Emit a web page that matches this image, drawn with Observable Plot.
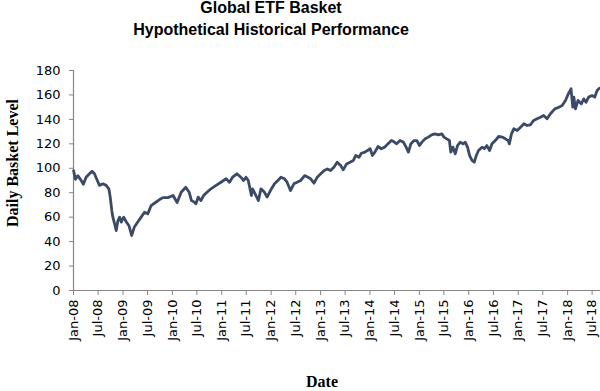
<!DOCTYPE html>
<html>
<head>
<meta charset="utf-8">
<script src="https://cdn.jsdelivr.net/npm/d3@7"></script>
<script src="https://cdn.jsdelivr.net/npm/@observablehq/plot@0.6"></script>
<style>
  html, body { margin: 0; padding: 0; background: #fff; }
  #wrap { position: relative; width: 600px; height: 391px; overflow: hidden; }
  .title { position: absolute; left: 0; width: 542px; text-align: center; font-family: "Liberation Sans", Arial, sans-serif; font-weight: bold; font-size: 16px; color: #000; line-height: 16px; white-space: nowrap; }
  .axlab { position: absolute; font-family: "Liberation Serif", "Times New Roman", serif; font-weight: bold; font-size: 16px; color: #000; line-height: 15px; white-space: nowrap; }
  #chart { position: absolute; left: 0; top: 0; }
</style>
</head>
<body>
<div id="wrap">
  <div id="chart"></div>
  <div class="title" style="top:0px">Global ETF Basket</div>
  <div class="title" style="top:22px">Hypothetical Historical Performance</div>
  <div class="axlab" id="ylab">Daily Basket Level</div>
  <div class="axlab" id="xlab">Date</div>
</div>
<script>
const dates = [
  "2008-01-02","2008-01-15","2008-02-02","2008-02-27","2008-03-14","2008-04-03","2008-04-28","2008-05-17",
  "2008-06-04","2008-06-21","2008-07-11","2008-08-05","2008-08-30","2008-09-19","2008-09-29","2008-10-10",
  "2008-10-18","2008-10-31","2008-11-12","2008-11-24","2008-12-07","2008-12-19","2009-01-06","2009-01-26",
  "2009-02-14","2009-03-06","2009-03-26","2009-04-20","2009-05-15","2009-06-09","2009-07-03","2009-07-28",
  "2009-08-29","2009-09-23","2009-10-23","2009-11-29","2010-01-06","2010-02-05","2010-03-07","2010-04-10",
  "2010-05-05","2010-05-22","2010-06-12","2010-06-24","2010-07-11","2010-07-31","2010-08-20","2010-09-14",
  "2010-10-13","2010-11-20","2010-12-26","2011-02-02","2011-02-27","2011-03-22","2011-04-23","2011-05-22",
  "2011-06-12","2011-06-29","2011-07-16","2011-08-08","2011-08-17","2011-09-11","2011-09-29","2011-10-18",
  "2011-11-13","2011-12-02","2011-12-27","2012-01-26","2012-02-20","2012-03-14","2012-04-09","2012-04-28",
  "2012-05-23","2012-06-17","2012-07-11","2012-08-06","2012-09-05","2012-09-29","2012-10-19","2012-11-13",
  "2012-12-07","2013-01-02","2013-01-27","2013-02-20","2013-03-15","2013-04-09","2013-05-03","2013-05-29",
  "2013-06-17","2013-07-12","2013-08-06","2013-08-31","2013-09-18","2013-10-12","2013-10-29","2013-11-24",
  "2013-12-13","2014-01-02","2014-01-19","2014-02-06","2014-03-01","2014-03-25","2014-04-20","2014-05-14",
  "2014-06-08","2014-06-23","2014-07-17","2014-08-11","2014-09-05","2014-09-25","2014-10-12","2014-10-30",
  "2014-11-23","2014-12-13","2015-01-02","2015-01-20","2015-02-13","2015-03-08","2015-04-02","2015-04-27",
  "2015-05-21","2015-06-16","2015-07-02","2015-07-22","2015-08-11","2015-08-21","2015-09-06","2015-09-23",
  "2015-10-10","2015-10-30","2015-11-19","2015-12-06","2015-12-23","2016-01-07","2016-01-25","2016-02-11",
  "2016-02-26","2016-03-13","2016-04-08","2016-04-25","2016-05-14","2016-06-03","2016-06-21","2016-07-15",
  "2016-08-09","2016-09-04","2016-09-28","2016-10-18","2016-10-27","2016-11-12","2016-11-29","2016-12-24",
  "2017-01-18","2017-02-12","2017-03-07","2017-03-31","2017-04-25","2017-05-20","2017-06-14","2017-07-08",
  "2017-08-02","2017-08-27","2017-09-28","2017-10-28","2017-11-22","2017-12-16","2018-01-06","2018-01-26",
  "2018-02-08","2018-02-16","2018-02-28","2018-03-19","2018-04-12","2018-04-30","2018-05-17","2018-06-05",
  "2018-07-01","2018-07-20","2018-08-07","2018-08-24"
];
const levels = [
  98, 91, 94, 90, 87, 92.7, 95.5, 97.6,
  95.5, 91, 86, 87.3, 86, 83, 76, 65.5,
  60, 54.5, 49, 57, 60, 56, 60, 56,
  53, 45, 52, 56, 60, 64, 62.7, 69.5,
  72, 74, 76, 76, 77.7, 72, 80.4, 84.5,
  80.4, 73.6, 72.3, 71, 76.4, 73.6, 77.7, 80.4,
  83.2, 86, 88.6, 91.4, 88.6, 92.7, 95.5, 92.7,
  90, 92.7, 90, 77.7, 83.2, 77.7, 73.6, 83.2,
  80.4, 76.4, 81.8, 87.3, 90, 92.7, 91.4, 88.6,
  81.8, 87.3, 88.6, 90, 94, 92.7, 91.4, 87.8,
  92.7, 95.5, 98.2, 99.5, 98.2, 100.9, 105, 102.3,
  98.7, 103.6, 105, 106.4, 110.5, 109, 112.3, 113.2,
  114.5, 116, 110.5, 113.2, 117.8, 116, 117.3, 120,
  122.7, 122, 120, 122.7, 121.4, 117.3, 113.2, 120,
  122.7, 122.7, 118.6, 121.4, 124.1, 125.5, 127.4, 128.2,
  127.4, 128.2, 125.5, 124.1, 122.7, 113.2, 117.3, 111.8,
  118.6, 121.4, 120, 121.4, 117.3, 110.5, 106.4, 105,
  110.5, 114.5, 117.3, 116, 118.6, 114.5, 120, 122.7,
  126, 125.5, 124.1, 122.7, 120, 128.2, 132.3, 130.9,
  133.6, 136.4, 135, 135.6, 139.1, 140.5, 141.8, 143.2,
  140.5, 144.6, 148.6, 150, 151.4, 155.5, 160.9, 165,
  150, 158.2, 148.6, 155.5, 152.7, 156.8, 154, 158.2,
  159.5, 158.2, 163.6, 165.5
];
const xTicks = [
  "2008-01-01","2008-07-01","2009-01-01","2009-07-01","2010-01-01","2010-07-01",
  "2011-01-01","2011-07-01","2012-01-01","2012-07-01","2013-01-01","2013-07-01",
  "2014-01-01","2014-07-01","2015-01-01","2015-07-01","2016-01-01","2016-07-01",
  "2017-01-01","2017-07-01","2018-01-01","2018-07-01"
];
const yTicks = [0, 20, 40, 60, 80, 100, 120, 140, 160, 180];
const xStart = "2008-01-01";
const xEnd = "2018-09-01";

const data = dates.map((d, i) => ({date: new Date(d), value: levels[i]}));
const axisGray = "#868686";

const chart = Plot.plot({
  width: 600,
  height: 391,
  marginLeft: 73,
  marginRight: 0,
  marginTop: 70,
  marginBottom: 101,
  style: {fontFamily: "'DejaVu Sans', Verdana, sans-serif", fontSize: "13px", color: "#000", background: "#fff"},
  x: {type: "utc", domain: [new Date(xStart), new Date(xEnd)]},
  y: {domain: [0, 180]},
  marks: [
    Plot.axisY({ticks: yTicks, tickSize: 4, tickPadding: 9, label: null, stroke: axisGray, fill: "#000", fontSize: 13}),
    Plot.axisX({ticks: xTicks.map(d => new Date(d)), tickFormat: d3.utcFormat("%b-%y"), tickRotate: -90, tickSize: 5, tickPadding: 4, label: null, stroke: axisGray, fill: "#000", fontSize: 13}),
    Plot.ruleX([new Date(xStart)], {stroke: axisGray, strokeWidth: 1.2}),
    Plot.ruleY([0], {stroke: axisGray, strokeWidth: 1.2}),
    Plot.line(data, {x: "date", y: "value", stroke: "#3b4a66", strokeWidth: 2.8, strokeLinejoin: "round"})
  ]
});
document.getElementById("chart").appendChild(chart);

const ylab = document.getElementById("ylab");
ylab.style.left = "12px";
ylab.style.top = "163px";
ylab.style.transform = "translate(-50%, -50%) rotate(-90deg)";
const xlab = document.getElementById("xlab");
xlab.style.left = "322px";
xlab.style.top = "374px";
xlab.style.transform = "translateX(-50%)";
</script>
</body>
</html>
